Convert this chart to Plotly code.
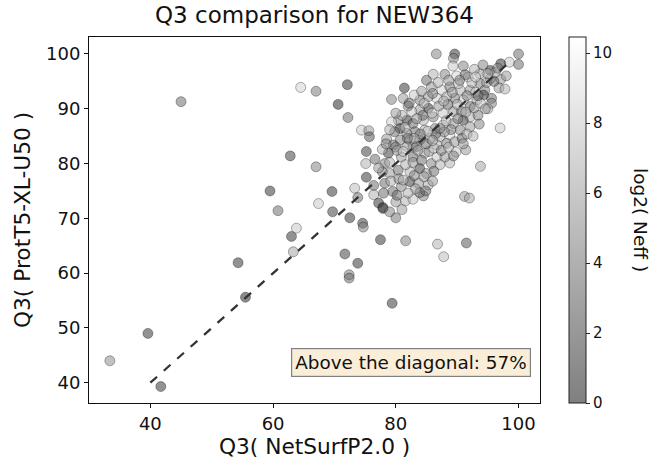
import plotly.graph_objects as go

# --- data ---
q3_netsurf = [
    33.4, 39.6, 41.7, 45.0, 54.3, 55.5, 59.5, 60.8, 62.8, 63.0, 63.8, 63.3, 64.5, 67.0, 67.0, 67.4,
    69.6, 69.7, 70.6, 72.1, 72.2, 71.7, 73.8, 72.4, 72.4, 72.5, 73.3, 73.8, 74.6, 74.7, 74.4, 75.6,
    75.7, 75.2, 75.1, 75.2, 76.4, 76.4, 77.2, 77.9, 77.5, 79.4, 80.0, 81.6, 86.8, 87.8, 91.5, 91.2,
    92.0, 93.8, 97.0, 100.0, 100.0, 98.5, 97.1, 86.6, 89.6, 89.4, 81.4, 81.2, 79.3,
    86.1, 88.0, 89.9, 91.0, 89.3, 91.8, 93.7, 95.4, 95.4, 97.1, 93.7, 85.8, 87.5, 88.8, 90.5, 92.1,
    94.5, 95.6, 95.6, 94.3, 93.2, 92.1, 91.0, 89.6, 88.3, 86.7, 85.3, 83.9, 85.3, 83.9, 82.6, 81.8,
    80.4, 79.3, 82.8, 84.5, 86.1, 87.7, 89.4, 90.7, 92.1, 93.4, 91.0, 89.4, 87.7, 86.4, 84.7, 83.1,
    81.8, 80.7, 80.7, 82.3, 83.9, 85.6, 87.2, 88.8, 90.5, 92.1, 82.8,
    89.8, 91.4, 88.8, 80.0, 81.6, 82.8, 84.5, 77.9, 79.5, 80.9, 82.3, 83.9, 83.7, 85.3, 78.2, 79.0,
    80.4, 82.3, 83.9, 85.0, 85.8, 86.7, 88.0, 78.8, 78.2, 80.9, 82.8, 84.7, 83.4, 81.8, 79.6, 86.7,
    88.3,
    78.5, 79.8, 81.0, 82.0, 83.0, 84.2, 85.0, 86.9, 88.6, 90.2, 91.3, 92.8, 94.2, 96.2, 96.8, 93.0,
    91.6, 90.0, 88.5, 87.0, 85.9, 84.4, 83.4, 81.5, 80.0, 79.0, 77.8, 78.0, 79.2, 80.5, 81.6, 82.8,
    84.2, 85.4, 86.2, 87.4, 88.6, 89.6, 90.8, 91.6, 89.0, 87.9, 86.5, 85.2, 84.0, 83.0, 81.9, 80.2,
    81.2, 83.6, 85.0, 86.0, 87.2, 88.2, 90.1, 91.4, 92.8, 93.8, 94.8, 96.0, 95.0, 93.6, 92.6, 91.0,
    89.4, 87.2, 86.2, 84.6, 83.0, 81.2, 80.2, 81.0, 79.0, 83.2, 84.9, 86.0, 82.0, 77.2, 76.6, 77.8,
    78.4, 79.0, 80.0, 82.2, 84.6, 86.0, 87.8, 89.2, 90.4, 92.4, 93.4, 94.6, 93.0, 95.0, 96.6, 98.0,
    97.8,
]
q3_prott5 = [
    44.0, 49.0, 39.3, 91.3, 61.9, 55.6, 75.0, 71.4, 81.4, 66.7, 68.2, 63.9, 93.9, 93.2, 79.4, 72.7,
    74.9, 71.2, 90.8, 94.4, 88.4, 63.5, 61.8, 59.7, 59.1, 70.1, 75.5, 73.8, 69.1, 68.4, 86.1, 86.0,
    84.9, 82.2, 80.0, 77.5, 76.0, 74.3, 72.8, 72.0, 66.1, 54.5, 70.1, 65.9, 65.3, 63.0, 65.5, 74.0,
    73.7, 79.5, 86.5, 100.0, 98.1, 98.5, 98.2, 100.0, 100.0, 99.2, 93.8, 91.9, 91.7,
    96.3, 96.3, 96.0, 97.8, 97.8, 95.8, 96.4, 97.0, 95.5, 95.4, 94.6, 94.0, 93.4, 94.0, 93.4, 93.4,
    93.4, 91.9, 91.0, 92.5, 91.6, 90.4, 91.6, 91.9, 92.2, 91.9, 92.2, 91.6, 90.1, 89.8, 89.5, 87.9,
    87.9, 87.6, 87.3, 87.9, 88.5, 89.2, 89.5, 89.5, 88.5, 88.8, 87.9, 87.3, 87.0, 86.4, 86.1, 85.8,
    85.5, 86.4, 84.3, 84.3, 84.3, 84.6, 84.9, 85.2, 86.1, 86.7, 83.1,
    82.1, 82.5, 80.1, 73.0, 73.2, 73.5, 74.1, 71.8, 74.9, 75.8, 76.7, 74.7, 76.4, 76.1, 76.4, 78.2,
    78.8, 78.5, 79.1, 78.2, 80.0, 81.2, 81.2, 81.9, 80.0, 81.2, 81.2, 81.9, 83.1, 83.1, 83.4, 83.4,
    83.7,
    84.5, 85.8, 88.8, 90.5, 92.5, 93.2, 95.2, 94.8, 95.2, 94.6, 96.2, 97.2, 98.0, 96.6, 93.8, 93.0,
    92.4, 90.8, 90.8, 90.5, 89.2, 88.8, 88.2, 86.6, 83.0, 80.2, 78.5, 74.6, 76.8, 77.2, 79.8, 80.2,
    80.6, 82.2, 82.8, 82.4, 83.0, 84.0, 84.6, 85.4, 86.2, 85.8, 85.4, 85.9, 85.4, 84.6, 84.6, 82.4,
    82.2, 82.4, 83.6, 84.2, 86.4, 87.8, 88.2, 89.4, 90.2, 91.0, 94.8, 95.0, 90.0, 87.2, 85.0, 83.6,
    81.4, 79.8, 78.6, 77.6, 77.8, 77.0, 74.2, 71.6, 71.2, 75.4, 75.0, 76.8, 74.6, 79.2, 80.8, 82.6,
    83.6, 86.2, 89.2, 91.0, 91.0, 92.8, 91.4, 93.0, 95.2, 94.8, 92.4, 90.0, 95.8, 96.4, 97.4, 96.0,
    93.6,
]
log2_neff = [
    5.5, 1.5, 1.5, 4.0, 1.5, 1.0, 1.5, 4.0, 2.0, 1.5, 8.0, 6.5, 8.5, 4.5, 5.0, 8.0,
    1.5, 2.0, 1.0, 1.5, 4.0, 2.0, 1.5, 5.0, 4.0, 1.5, 7.5, 4.0, 2.0, 5.0, 8.0, 6.0,
    3.0, 2.0, 7.0, 1.5, 4.0, 7.0, 1.5, 3.0, 1.5, 1.5, 4.5, 5.0, 7.0, 7.5, 3.0, 6.0,
    6.5, 6.5, 8.0, 4.0, 4.0, 8.0, 1.5, 5.0, 1.5, 5.0, 1.5, 6.0, 5.0,
    7.0, 5.0, 8.5, 5.0, 8.0, 8.5, 6.0, 1.5, 6.0, 6.0, 5.0, 6.0, 8.5, 5.0, 7.0, 6.0,
    5.0, 4.0, 5.0, 2.0, 6.0, 4.0, 8.0, 5.0, 7.0, 8.5, 6.0, 5.0, 1.5, 6.0, 8.0, 1.5,
    5.0, 8.5, 4.0, 7.0, 5.0, 8.0, 6.0, 4.0, 7.0, 5.0, 2.0, 6.0, 8.5, 5.0, 7.0, 4.0,
    6.0, 1.5, 5.0, 8.0, 4.0, 6.0, 7.0, 9.0, 5.0, 6.0, 5.0,
    8.0, 6.0, 7.0, 6.0, 7.0, 8.0, 5.0, 2.0, 4.0, 5.0, 2.0, 4.0, 6.0, 7.0, 4.0, 6.0,
    4.0, 7.0, 2.0, 6.0, 5.0, 8.0, 6.0, 2.0, 5.0, 6.0, 4.0, 7.0, 5.0, 6.0, 4.0, 7.0,
    5.0,
    6.0, 4.0, 7.0, 5.0, 8.0, 6.0, 4.0, 7.0, 6.0, 8.0, 4.0, 7.0, 5.0, 7.0, 6.0, 8.0,
    5.0, 7.0, 4.0, 6.0, 8.0, 4.0, 6.0, 7.0, 5.0, 7.0, 5.0, 4.0, 7.0, 5.0, 7.0, 6.0,
    4.0, 6.0, 8.0, 5.0, 7.0, 6.0, 4.0, 7.0, 5.0, 6.0, 4.0, 8.0, 5.0, 7.0, 4.0, 6.0,
    8.0, 6.0, 4.0, 7.0, 5.0, 7.0, 5.0, 7.0, 6.0, 8.0, 6.0, 4.0, 7.0, 5.0, 7.0, 6.0,
    5.0, 7.0, 4.0, 6.0, 5.0, 7.0, 4.0, 6.0, 5.0, 6.0, 4.0, 6.0, 7.0, 6.0, 4.0, 7.0,
    5.0, 7.0, 6.0, 4.0, 7.0, 5.0, 7.0, 6.0, 5.0, 7.0, 4.0, 6.0, 8.5, 7.0, 5.0, 6.0,
    7.0,
]
diag_x = [40, 99]
diag_y = [40, 99]
title_text = "Q3 comparison for NEW364"
x_title = "Q3( NetSurfP2.0 )"
y_title = "Q3( ProtT5-XL-U50 )"
cbar_title = "log2( Neff )"
box_text = "Above the diagonal: 57%"
x_ticks = [40, 60, 80, 100]
y_ticks = [40, 50, 60, 70, 80, 90, 100]
cbar_ticks = [0, 2, 4, 6, 8, 10]

FONT = "DejaVu Sans"
W, H = 654, 461
L, R, T, B = 89, 114, 37, 58
pw = W - L - R
ph = H - T - B

fig = go.Figure()
fig.add_trace(go.Scatter(
    x=q3_netsurf, y=q3_prott5, mode="markers",
    marker=dict(
        size=10, color=log2_neff, cmin=0, cmax=10.46,
        colorscale=[[0, "rgba(0,0,0,0.5)"], [1, "rgba(255,255,255,0.5)"]],
        line=dict(color="rgba(0,0,0,0.45)", width=0.7),
        colorbar=dict(
            x=1 + (569 - 540) / pw, xanchor="left", xpad=0,
            y=0.5, yanchor="middle", len=1.0, lenmode="fraction", ypad=0,
            thickness=17, outlinewidth=1, outlinecolor="#222",
            tickmode="array", tickvals=cbar_ticks, ticks="outside", ticklen=4,
            tickcolor="#222", tickfont=dict(family=FONT, size=15, color="#111"),
        ),
    ),
    showlegend=False, hoverinfo="skip",
))

# diagonal reference line, drawn above the markers
fig.add_shape(type="line", xref="x", yref="y",
              x0=diag_x[0], y0=diag_y[0], x1=diag_x[1], y1=diag_y[1],
              line=dict(color="#333333", width=2.3, dash="dash"), layer="above")

axis_common = dict(
    showline=True, linecolor="#111", linewidth=1, mirror=True,
    ticks="outside", ticklen=4, tickcolor="#111", showgrid=False, zeroline=False,
    tickfont=dict(family=FONT, size=18, color="#111"),
)
fig.update_xaxes(range=[30.0, 103.5], tickvals=x_ticks, **axis_common)
fig.update_yaxes(range=[36.3, 103.1], tickvals=y_ticks, **axis_common)

annotations = [
    dict(text=title_text, xref="paper", yref="paper", x=(314 - L) / pw, y=1 + (T - 15) / ph,
         xanchor="center", yanchor="middle", showarrow=False,
         font=dict(family=FONT, size=23, color="#111")),
    dict(text=x_title, xref="paper", yref="paper", x=(314 - L) / pw, y=-(447 - (H - B)) / ph,
         xanchor="center", yanchor="middle", showarrow=False,
         font=dict(family=FONT, size=21.7, color="#111")),
    dict(text=y_title, xref="paper", yref="paper", x=-(L - 22) / pw, y=0.5,
         xanchor="center", yanchor="middle", showarrow=False, textangle=-90,
         font=dict(family=FONT, size=21.7, color="#111")),
    dict(text=cbar_title, xref="paper", yref="paper", x=1 + (641 - 540) / pw, y=0.5,
         xanchor="center", yanchor="middle", showarrow=False, textangle=90,
         font=dict(family=FONT, size=18.5, color="#111")),
    dict(text=box_text, xref="paper", yref="paper", x=1 - (540 - 531) / pw, y=(H - B - 377) / ph,
         xanchor="right", yanchor="bottom", showarrow=False,
         font=dict(family=FONT, size=18.4, color="#111"),
         bgcolor="#faeed9", bordercolor="#808080", borderwidth=1.2, borderpad=3),
]

fig.update_layout(
    width=W, height=H, margin=dict(l=L, r=R, t=T, b=B, autoexpand=False),
    paper_bgcolor="white", plot_bgcolor="white",
    annotations=annotations,
    font=dict(family=FONT),
)
fig.write_html("out.html")
